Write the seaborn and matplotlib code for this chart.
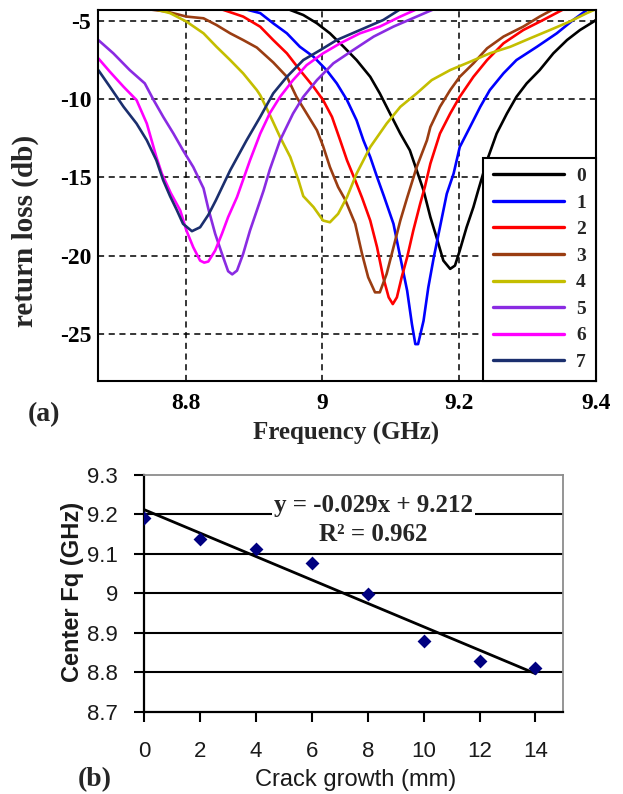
import numpy as np
import pandas as pd
import matplotlib
matplotlib.use("Agg")
import matplotlib.pyplot as plt
import seaborn as sns

# ---------------- data: panel (a) return loss curves ----------------
freq_0 = [8.950, 8.972, 8.992, 9.011, 9.031, 9.050, 9.070, 9.084, 9.099, 9.114, 9.128, 9.138, 9.148,
          9.158, 9.167, 9.177, 9.187, 9.194, 9.201, 9.211, 9.221, 9.228, 9.241, 9.255, 9.270, 9.284,
          9.299, 9.318, 9.338, 9.358, 9.377, 9.397, 9.400]
db_0 = [-4.25, -4.62, -5.15, -5.79, -6.65, -7.50, -8.57, -9.63, -10.92, -12.20, -13.27, -14.55, -15.83,
        -17.54, -18.83, -20.32, -20.85, -20.64, -19.68, -18.19, -16.90, -15.83, -13.91, -12.20, -10.92, -9.85,
        -8.99, -8.14, -7.07, -6.22, -5.58, -5.04, -4.94]

freq_1 = [8.887, 8.909, 8.928, 8.948, 8.967, 8.987, 9.006, 9.021, 9.036, 9.050, 9.060, 9.070, 9.080,
          9.090, 9.104, 9.114, 9.124, 9.131, 9.136, 9.140, 9.148, 9.155, 9.163, 9.172, 9.182, 9.192,
          9.201, 9.216, 9.231, 9.245, 9.265, 9.284, 9.314, 9.343, 9.367, 9.387, 9.395]
db_1 = [-4.25, -4.50, -5.15, -5.79, -6.65, -7.29, -8.14, -8.99, -10.06, -11.35, -12.63, -13.70, -14.98,
        -16.20, -17.97, -20.11, -22.24, -24.38, -25.66, -25.66, -24.17, -22.03, -20.11, -18.19, -16.05, -14.76,
        -13.06, -11.78, -10.49, -9.42, -8.35, -7.50, -6.65, -5.79, -4.94, -4.30, -4.20]

freq_2 = [8.852, 8.884, 8.909, 8.928, 8.948, 8.967, 8.987, 9.001, 9.014, 9.026, 9.036, 9.048, 9.058,
          9.070, 9.080, 9.089, 9.097, 9.103, 9.109, 9.116, 9.124, 9.133, 9.143, 9.150, 9.158, 9.172,
          9.187, 9.201, 9.221, 9.241, 9.265, 9.294, 9.323, 9.353]
db_2 = [-4.25, -4.72, -5.37, -6.22, -7.07, -8.14, -9.21, -10.06, -11.13, -12.63, -13.91, -15.19, -16.30,
        -17.76, -19.47, -21.39, -22.67, -23.10, -22.67, -21.39, -20.11, -18.40, -16.70, -15.60, -14.12, -12.20,
        -10.92, -9.85, -8.57, -7.50, -6.43, -5.58, -4.94, -4.25]

freq_3 = [8.745, 8.772, 8.801, 8.826, 8.845, 8.865, 8.884, 8.904, 8.928, 8.948, 8.962, 8.977, 8.992,
          9.001, 9.011, 9.023, 9.033, 9.048, 9.058, 9.067, 9.077, 9.084, 9.094, 9.104, 9.114, 9.124,
          9.138, 9.153, 9.158, 9.172, 9.187, 9.201, 9.221, 9.241, 9.265, 9.294, 9.318, 9.338]
db_3 = [-4.25, -4.40, -4.72, -4.83, -5.26, -5.79, -6.22, -6.70, -7.65, -8.57, -9.85, -10.92, -11.99,
        -13.00, -14.34, -15.62, -16.40, -17.97, -19.89, -21.39, -22.35, -22.35, -21.17, -19.47, -17.76, -16.30,
        -14.34, -12.63, -11.78, -10.49, -9.42, -8.57, -7.71, -6.75, -6.00, -5.36, -4.72, -4.25]

freq_4 = [8.755, 8.777, 8.801, 8.826, 8.845, 8.865, 8.884, 8.904, 8.909, 8.923, 8.938, 8.953, 8.965,
          8.972, 8.987, 9.001, 9.011, 9.023, 9.036, 9.050, 9.070, 9.094, 9.114, 9.138, 9.160, 9.187,
          9.216, 9.245, 9.275, 9.304, 9.333, 9.362, 9.387, 9.400]
db_4 = [-4.25, -4.50, -5.04, -5.79, -6.65, -7.50, -8.35, -9.42, -9.75, -11.00, -12.42, -13.70, -15.19,
        -16.20, -16.90, -17.76, -17.87, -17.33, -16.26, -14.76, -13.06, -11.56, -10.49, -9.63, -8.78, -8.14,
        -7.61, -7.07, -6.65, -6.11, -5.58, -5.04, -4.50, -4.25]

freq_5 = [8.672, 8.694, 8.718, 8.740, 8.753, 8.767, 8.782, 8.796, 8.811, 8.826, 8.833, 8.843, 8.853,
          8.862, 8.868, 8.875, 8.884, 8.894, 8.904, 8.914, 8.923, 8.938, 8.957, 8.972, 8.992, 9.016,
          9.045, 9.075, 9.104, 9.138, 9.163]
db_5 = [-6.22, -7.07, -8.14, -8.99, -10.06, -11.13, -12.20, -13.27, -14.34, -15.70, -17.00, -18.60, -19.89,
        -21.00, -21.20, -20.96, -19.89, -18.40, -17.12, -15.83, -14.50, -12.63, -10.92, -9.85, -8.78, -7.71,
        -6.86, -6.00, -5.36, -4.72, -4.25]

freq_6 = [8.672, 8.689, 8.709, 8.728, 8.743, 8.750, 8.757, 8.765, 8.778, 8.792, 8.801, 8.811, 8.821,
          8.827, 8.833, 8.843, 8.853, 8.862, 8.875, 8.894, 8.909, 8.923, 8.938, 8.957, 8.977, 9.001,
          9.026, 9.055, 9.084, 9.114, 9.138]
db_6 = [-7.39, -8.25, -9.21, -10.06, -11.56, -12.63, -13.70, -14.76, -16.00, -17.12, -18.40, -19.47, -20.32,
        -20.45, -20.38, -19.68, -18.60, -17.54, -16.26, -13.91, -12.20, -10.90, -9.85, -8.78, -7.82, -7.07,
        -6.43, -5.79, -5.36, -4.72, -4.25]

freq_7 = [8.672, 8.689, 8.709, 8.728, 8.743, 8.757, 8.767, 8.777, 8.787, 8.796, 8.809, 8.821, 8.833,
          8.844, 8.865, 8.889, 8.909, 8.928, 8.948, 8.972, 8.997, 9.021, 9.055, 9.089, 9.114]
db_7 = [-8.14, -9.21, -10.49, -11.56, -12.63, -13.91, -15.19, -16.20, -17.10, -17.97, -18.44, -18.19, -17.40,
        -16.47, -14.55, -12.63, -11.13, -9.63, -8.57, -7.50, -6.86, -6.22, -5.58, -4.94, -4.25]

curve_labels = ["0", "1", "2", "3", "4", "5", "6", "7"]
curve_colors = ["#000000", "#0000FF", "#FF0000", "#9A3D12", "#C4BE00", "#8A2BE2", "#FF00FF", "#1B2F6E"]
freq_ticks = [8.8, 9.0, 9.2, 9.4]
freq_tick_labels = ["8.8", "9", "9.2", "9.4"]
db_ticks = [-25, -20, -15, -10, -5]
db_tick_labels = ["-25", "-20", "-15", "-10", "-5"]

# ---------------- data: panel (b) centre frequency vs crack ----------------
crack_mm = [0, 2, 4, 6, 8, 10, 12, 14]
center_fq = [9.190, 9.138, 9.112, 9.078, 8.998, 8.879, 8.829, 8.810]
crack_ticks = [0, 2, 4, 6, 8, 10, 12, 14]
fq_ticks = [8.7, 8.8, 8.9, 9.0, 9.1, 9.2, 9.3]
fq_tick_labels = ["8.7", "8.8", "8.9", "9", "9.1", "9.2", "9.3"]
equation_text = "y = -0.029x + 9.212\nR\u00b2 = 0.962"

# ---------------- build frames ----------------
freqs = [freq_0, freq_1, freq_2, freq_3, freq_4, freq_5, freq_6, freq_7]
dbs = [db_0, db_1, db_2, db_3, db_4, db_5, db_6, db_7]
rows = []
for lab, fr, db in zip(curve_labels, freqs, dbs):
    for f, d in zip(fr, db):
        rows.append((lab, f, d))
df_a = pd.DataFrame(rows, columns=["crack", "freq", "db"])
df_b = pd.DataFrame({"crack": crack_mm, "fq": center_fq})

sns.set_theme(style="white")
plt.rcParams["font.family"] = ["Liberation Serif", "DejaVu Serif"]
plt.rcParams["axes.unicode_minus"] = False

fig = plt.figure(figsize=(6.23, 7.94), dpi=100)
serif_b = dict(family="Liberation Serif", weight="bold")
sans = "Liberation Sans"

# ---------------- panel (a) ----------------
ax1 = fig.add_axes([0.1578, 0.5205, 0.7984, 0.4669])
sns.lineplot(data=df_a, x="freq", y="db", hue="crack", hue_order=curve_labels,
             palette=dict(zip(curve_labels, curve_colors)), sort=False, estimator=None,
             linewidth=1.9, ax=ax1, legend=True)
ax1.set_xlim(8.672, 9.4)
ax1.set_ylim(-28.0, -4.3)
ax1.set_xticks(freq_ticks)
ax1.set_xticklabels(freq_tick_labels, fontsize=17, **serif_b)
ax1.set_yticks(db_ticks)
ax1.set_yticklabels(db_tick_labels, fontsize=17, **serif_b)
ax1.tick_params(axis="both", length=0, colors="black")
ax1.tick_params(axis="x", pad=9)
ax1.tick_params(axis="y", pad=5)
ax1.grid(True, color="black", linestyle=(0, (4, 3)), linewidth=1.1)
ax1.set_axisbelow(True)
for sp in ax1.spines.values():
    sp.set_color("black")
    sp.set_linewidth(1.5)
ax1.set_xlabel("")
ax1.set_ylabel("")
leg = ax1.legend(loc="lower right", bbox_to_anchor=(1.0, 0.0), borderaxespad=0.0,
                 frameon=True, fancybox=False, edgecolor="black", framealpha=1.0,
                 handlelength=3.7, handletextpad=0.6, labelspacing=0.46, borderpad=0.5,
                 prop=dict(family="Liberation Serif", weight="bold", size=14))
leg.get_frame().set_linewidth(1.5)
for ln in leg.get_lines():
    ln.set_linewidth(2.4)

fig.text(346 / 623, 1 - 433 / 794, "Frequency (GHz)", ha="center", va="center", fontsize=18, **serif_b)
fig.text(25 / 623, 1 - 231 / 794, "return loss (db)", ha="center", va="center", rotation=90,
         fontsize=21, **serif_b)
fig.text(44 / 623, 1 - 415 / 794, "(a)", ha="center", va="center", fontsize=20, **serif_b)

# ---------------- panel (b) ----------------
ax2 = fig.add_axes([0.2316, 0.1037, 0.6726, 0.2981])
sns.regplot(data=df_b, x="crack", y="fq", ci=None, marker="D", ax=ax2,
            scatter_kws=dict(s=50, color="#000080", alpha=1.0, zorder=4, linewidths=0),
            line_kws=dict(color="black", linewidth=2.0, zorder=3))
ax2.set_xlim(0, 15)
ax2.set_ylim(8.7, 9.3)
ax2.set_xticks(crack_ticks)
ax2.set_xticklabels([str(c) for c in crack_ticks], fontsize=16, family=sans)
ax2.set_yticks(fq_ticks)
ax2.set_yticklabels(fq_tick_labels, fontsize=16, family=sans)
ax2.tick_params(axis="both", direction="out", length=7, width=1.5, color="black",
                labelcolor="#1a1a1a", bottom=True, left=True)
ax2.tick_params(axis="x", pad=14)
ax2.tick_params(axis="y", pad=12)
ax2.yaxis.grid(True, color="black", linewidth=1.5)
ax2.xaxis.grid(False)
gl = ax2.get_ygridlines()
gl[0].set_visible(False)
gl[-1].set_visible(False)
ax2.set_axisbelow(True)
ax2.spines["left"].set_color("black")
ax2.spines["bottom"].set_color("black")
ax2.spines["left"].set_linewidth(1.6)
ax2.spines["bottom"].set_linewidth(1.6)
ax2.spines["top"].set_color("#8c8c8c")
ax2.spines["right"].set_color("#8c8c8c")
ax2.spines["top"].set_linewidth(1.3)
ax2.spines["right"].set_linewidth(1.3)
ax2.set_xlabel("")
ax2.set_ylabel("")
ax2.text(8.2, 9.186, equation_text, ha="center", va="center", multialignment="center",
         fontsize=18, linespacing=1.35, zorder=5, **serif_b,
         bbox=dict(facecolor="white", edgecolor="none", pad=1.5))

fig.text(356 / 623, 1 - 780 / 794, "Crack growth (mm)", ha="center", va="center", fontsize=17,
         family=sans, color="#1a1a1a")
fig.text(72 / 623, 1 - 592 / 794, "Center Fq (GHz)", ha="center", va="center", rotation=90,
         fontsize=17, family=sans, weight="bold", color="#1a1a1a")
fig.text(95 / 623, 1 - 780 / 794, "(b)", ha="center", va="center", fontsize=20, **serif_b)

fig.savefig("out.png", dpi=100, facecolor="white")
